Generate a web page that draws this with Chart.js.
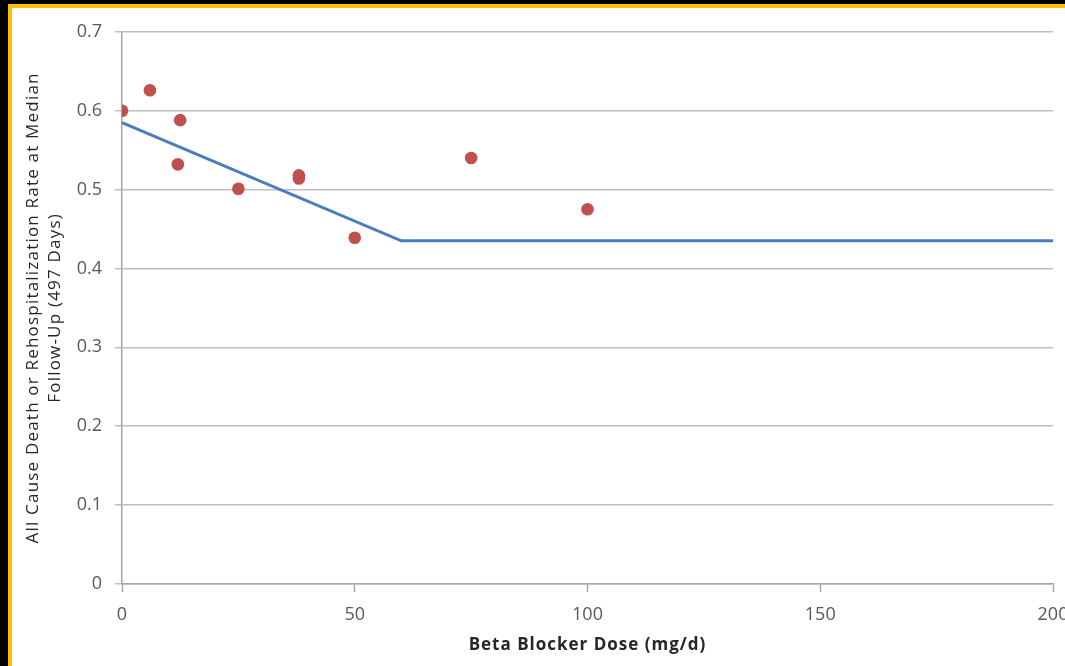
<!DOCTYPE html>
<html>
<head>
<meta charset="utf-8">
<script src="https://cdn.jsdelivr.net/npm/chart.js@4"></script>
<style>
  html, body { margin: 0; padding: 0; background: #000; overflow: hidden; width: 1065px; height: 666px; }
  #frame { position: absolute; left: 8px; top: 4px; border-left: 4px solid #FFC000; border-top: 4px solid #FFC000; background: #fff; width: 1100px; height: 700px; overflow: hidden; }
  canvas { display: block; }
</style>
</head>
<body>
<div id="frame"><canvas id="c" width="1100" height="658"></canvas></div>
<script>
// Observed data points
const doses = [0, 6, 12, 12.5, 25, 38, 38, 50, 75, 100];
const rates = [0.600, 0.626, 0.532, 0.588, 0.501, 0.518, 0.514, 0.439, 0.540, 0.475];
// Fitted piecewise line
const fitDoses = [0, 60, 200];
const fitRates = [0.585, 0.435, 0.435];
// Axes
const xTitle = 'Beta Blocker Dose (mg/d)';
const yTitle = ['All Cause Death or Rehospitalization Rate at Median', 'Follow-Up (497 Days)'];

const FONT = '"Open Sans", Lato, sans-serif';

// widen title lettering a little (reference text is horizontally stretched)
function spacedTitle(scale, spacing) {
  if (scale._spacedTitle) return;
  scale._spacedTitle = true;
  const orig = scale.drawTitle;
  scale.drawTitle = function () {
    const ctx = this.ctx;
    const prev = ctx.letterSpacing;
    ctx.letterSpacing = spacing;
    orig.apply(this, arguments);
    ctx.letterSpacing = prev || '0px';
  };
}

new Chart(document.getElementById('c'), {
  type: 'scatter',
  data: {
    datasets: [
      {
        type: 'line',
        data: fitDoses.map((x, i) => ({x, y: fitRates[i]})),
        borderColor: '#4A7EBB',
        borderWidth: 3,
        pointRadius: 0,
        fill: false,
        tension: 0
      },
      {
        data: doses.map((x, i) => ({x, y: rates[i]})),
        backgroundColor: '#C0504D',
        borderColor: '#C0504D',
        pointRadius: 6.3,
        pointBorderWidth: 0
      }
    ]
  },
  options: {
    responsive: false,
    animation: false,
    layout: { padding: { top: 22, right: 59, left: 0, bottom: 0 } },
    plugins: { legend: { display: false }, tooltip: { enabled: false } },
    scales: {
      x: {
        type: 'linear', min: 0, max: 200,
        ticks: { stepSize: 50, color: '#595959', font: { family: FONT, size: 18 }, padding: 12, maxRotation: 0 },
        grid: { drawOnChartArea: false, drawTicks: true, tickLength: 8, tickColor: '#a6a6a6', tickWidth: 1.5 },
        border: { display: true, color: '#a6a6a6', width: 1.5 },
        title: { display: true, text: xTitle, color: '#262626', font: { family: FONT, size: 17, weight: 'bold', lineHeight: 1.2 }, padding: { top: 0, bottom: 11 } },
        afterFit: s => { s.height = 82; spacedTitle(s, '1px'); }
      },
      y: {
        min: 0, max: 0.7,
        ticks: { stepSize: 0.1, color: '#595959', font: { family: FONT, size: 18 }, padding: 13 },
        grid: { color: '#bfbfbf', lineWidth: 1.5, tickLength: 7, tickColor: '#bfbfbf' },
        border: { display: true, color: '#a6a6a6', width: 1.5 },
        title: { display: true, text: yTitle, color: '#262626', font: { family: FONT, size: 17, lineHeight: '22px' }, padding: { top: 10, bottom: 0 } },
        afterFit: s => { s.width = 110; spacedTitle(s, '1.2px'); }
      }
    }
  }
});
</script>
</body>
</html>
